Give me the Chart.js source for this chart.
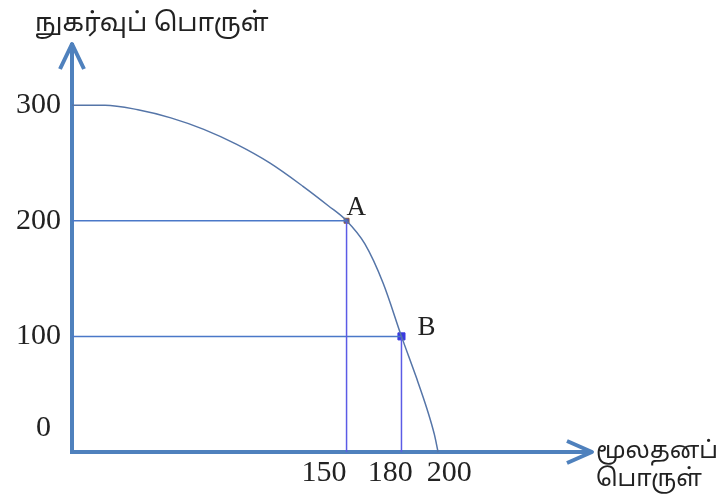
<!DOCTYPE html>
<html>
<head>
<meta charset="utf-8">
<script src="https://cdn.jsdelivr.net/npm/chart.js@4/dist/chart.umd.min.js"></script>
<style>
  body { margin: 0; background: #fff; }
  #wrap { width: 716px; height: 497px; }
</style>
</head>
<body>
<div id="wrap"><canvas id="ppc" width="716" height="497"></canvas></div>
<script>
// production possibility curve
const curveX = [0, 18, 36, 54, 72, 90, 108, 126, 140, 150, 160, 170, 180, 188, 194, 198, 200];
const curveY = [300, 300, 296, 289, 279, 266, 250, 230, 213, 200, 180, 146, 100, 65, 37, 15, 0];

const pointNames = ["A", "B"];
const pointX = [150, 180];
const pointY = [200, 100];

const xTicks = [150, 180, 200];
const yTicks = [100, 200, 300];

const yTitle = "நுகர்வுப் பொருள்";
const xTitle = ["மூலதனப்", "பொருள்"];

const axisBlue = "#4f81bd";
const tamilFont = '"Noto Sans Tamil", "Latha", "Noto Sans", sans-serif';
const serifFont = '"Liberation Serif", "Times New Roman", serif';

// the drawing is not to scale, labels sit a little off their ticks
const xLabelPad = { 150: ["", "      "], 180: ["", "   "], 200: ["   ", ""] };

const curve = curveX.map((x, i) => ({ x: x, y: curveY[i] }));

const guides = [];
pointX.forEach((x, i) => {
  guides.push({
    data: [{ x: 0, y: pointY[i] }, { x: x, y: pointY[i] }],
    borderColor: "#4a78c8", borderWidth: 1.5, pointRadius: 0, showLine: true, clip: false
  });
  guides.push({
    data: [{ x: x, y: pointY[i] }, { x: x, y: 0 }],
    borderColor: "#5b5be6", borderWidth: 1.5, pointRadius: 0, showLine: true, clip: false
  });
});

const decor = {
  id: "decor",
  afterDraw(chart) {
    const { ctx, chartArea: a, scales } = chart;
    ctx.save();
    // arrow heads
    ctx.strokeStyle = axisBlue;
    ctx.lineWidth = 4;
    ctx.lineJoin = "round";
    ctx.beginPath();
    ctx.moveTo(a.left - 12, a.top + 24);
    ctx.lineTo(a.left, a.top - 1);
    ctx.lineTo(a.left + 12, a.top + 24);
    ctx.stroke();
    ctx.beginPath();
    ctx.moveTo(a.right - 23, a.bottom - 11);
    ctx.lineTo(a.right + 2, a.bottom);
    ctx.lineTo(a.right - 23, a.bottom + 11);
    ctx.stroke();

    ctx.fillStyle = "#222";
    // point names
    ctx.font = "27px " + serifFont;
    ctx.textAlign = "left";
    ctx.textBaseline = "alphabetic";
    const offs = [[0, -6], [16, -1]];
    pointNames.forEach((n, i) => {
      const px = scales.x.getPixelForValue(pointX[i]);
      const py = scales.y.getPixelForValue(pointY[i]);
      ctx.fillText(n, px + offs[i][0], py + offs[i][1]);
    });

    // origin label
    ctx.font = "30px " + serifFont;
    ctx.textAlign = "right";
    ctx.fillText("0", a.left - 21, a.bottom - 16);

    // axis names
    ctx.font = "26px " + tamilFont;
    ctx.textAlign = "left";
    ctx.fillText(yTitle, 35, 31);
    ctx.font = "24px " + tamilFont;
    ctx.fillText(xTitle[0], a.right + 6, a.bottom + 6);
    ctx.fillText(xTitle[1], a.right + 6, a.bottom + 34);
    ctx.restore();
  }
};

new Chart(document.getElementById("ppc"), {
  type: "scatter",
  data: {
    datasets: [
      {
        data: curve,
        showLine: true,
        borderColor: "#5575a8",
        borderWidth: 1.5,
        pointRadius: 0,
        cubicInterpolationMode: "monotone",
        clip: false
      },
      ...guides,
      {
        data: pointX.map((x, i) => ({ x: x, y: pointY[i] })),
        showLine: false,
        pointStyle: "rect",
        pointRadius: [3.5, 5],
        backgroundColor: ["#4a55c0", "#3a3ae0"],
        borderColor: ["#8a5a3a", "#3a3ae0"],
        borderWidth: 1,
        clip: false
      }
    ]
  },
  options: {
    responsive: false,
    animation: false,
    layout: { padding: { top: 45, right: 126, left: 0, bottom: 0 } },
    plugins: { legend: { display: false }, tooltip: { enabled: false } },
    scales: {
      x: {
        type: "linear",
        min: 0,
        max: 283,
        grid: { display: false, drawTicks: false },
        border: { display: true, color: axisBlue, width: 4 },
        afterBuildTicks: s => { s.ticks = xTicks.map(v => ({ value: v })); },
        afterFit: s => { s.height = 45; },
        ticks: {
          color: "#222", padding: 3, autoSkip: false, maxRotation: 0,
          font: { family: serifFont, size: 30 },
          callback: v => {
            const p = xLabelPad[v] || ["", ""];
            return p[0] + v + p[1];
          }
        }
      },
      y: {
        type: "linear",
        min: 0,
        max: 352,
        grid: { display: false, drawTicks: false },
        border: { display: true, color: axisBlue, width: 4 },
        afterBuildTicks: s => { s.ticks = yTicks.map(v => ({ value: v })); },
        afterFit: s => { s.width = 72; },
        ticks: { color: "#222", padding: 11, autoSkip: false,
                 font: { family: serifFont, size: 30 } }
      }
    }
  },
  plugins: [decor]
});
</script>
</body>
</html>
